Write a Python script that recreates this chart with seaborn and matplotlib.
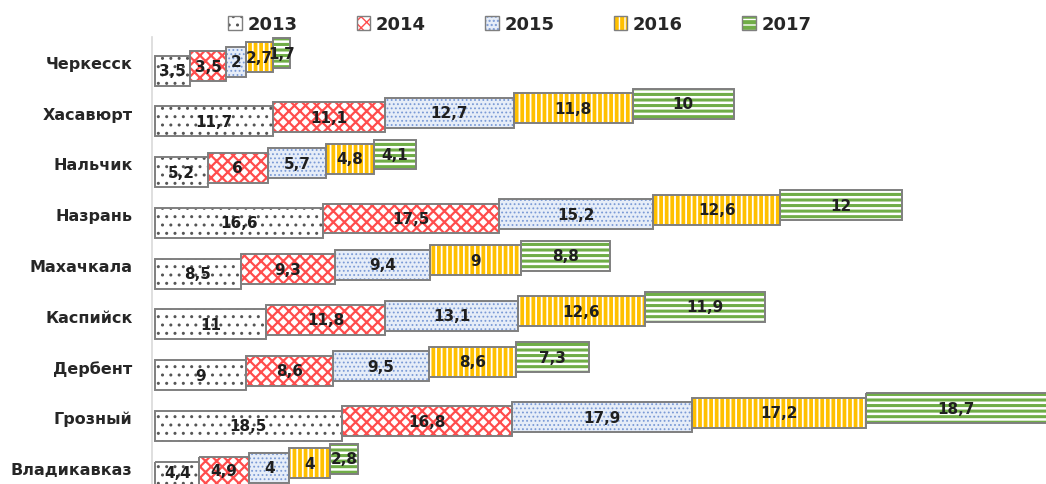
"""Stacked 3D-style horizontal bars: city values by year (2013-2017)."""
import matplotlib

matplotlib.use("Agg")
import matplotlib.pyplot as plt  # noqa: E402
from matplotlib.patches import Patch, Rectangle  # noqa: E402
import numpy as np  # noqa: E402
import seaborn as sns  # noqa: E402

sns.set_theme(style="white")
plt.rcParams["font.family"] = ["DejaVu Sans"]

cities = ["Черкесск", "Хасавюрт", "Нальчик", "Назрань", "Махачкала",
          "Каспийск", "Дербент", "Грозный", "Владикавказ"]
years = ["2013", "2014", "2015", "2016", "2017"]
v2013 = [3.5, 11.7, 5.2, 16.6, 8.5, 11, 9, 18.5, 4.4]
v2014 = [3.5, 11.1, 6, 17.5, 9.3, 11.8, 8.6, 16.8, 4.9]
v2015 = [2, 12.7, 5.7, 15.2, 9.4, 13.1, 9.5, 17.9, 4]
v2016 = [2.7, 11.8, 4.8, 12.6, 9, 12.6, 8.6, 17.2, 4]
v2017 = [1.7, 10, 4.1, 12, 8.8, 11.9, 7.3, 18.7, 2.8]
series = [v2013, v2014, v2015, v2016, v2017]

# face colour, hatch colour, hatch, hatch linewidth
styles = [
    ("#ffffff", "#555555", "..", 1.0),
    ("#ffffff", "#ff4d4d", "xxx", 1.6),
    ("#e6edf8", "#7a9ad6", "....", 0.8),
    ("#ffc000", "#ffffff", "|||", 1.3),
    ("#70ad47", "#ffffff", "---", 1.8),
]

BAR_H = 0.59
STEP = 0.087  # vertical shift per series (fake 3D depth)
EDGE = "#7f7f7f"

fig = plt.figure(figsize=(10.46, 4.85), dpi=100)
ax = fig.add_axes([152 / 1046, 0, 894 / 1046, 447 / 485])

left = np.zeros(len(cities))
for k, (vals, (face, hcol, hatch, hlw)) in enumerate(zip(series, styles)):
    with plt.rc_context({"hatch.linewidth": hlw}):
        sns.barplot(x=vals, y=cities, orient="h", color=face, saturation=1,
                    width=BAR_H, ax=ax, linewidth=0, edgecolor=hcol)
    cont = ax.containers[-1]
    for i, p in enumerate(cont.patches):
        p.set_x(left[i])
        p.set_y(p.get_y() + (2 - k) * STEP)
        p.set_facecolor(face)
        p.set_edgecolor(hcol)
        p.set_hatch(hatch)
        p.set_linewidth(0)
        ax.add_patch(Rectangle(p.get_xy(), p.get_width(), p.get_height(),
                               fill=False, ec=EDGE, lw=1.4, zorder=3))
    labels = [f"{v:g}".replace(".", ",") for v in vals]
    ax.bar_label(cont, labels=labels, label_type="center", fontsize=11,
                 fontweight="bold", color="#1f1f1f", zorder=4)
    left += np.array(vals)

ax.set_xlim(-0.3, 88.2)
ax.set_ylim(8.32, -0.49)
ax.set_xticks([])
ax.set_xlabel("")
ax.set_ylabel("")
ax.tick_params(axis="y", length=0, pad=14)
for lab in ax.get_yticklabels():
    lab.set_fontsize(11.5)
    lab.set_fontweight("bold")
    lab.set_color("#262626")
for s in ["top", "right", "bottom"]:
    ax.spines[s].set_visible(False)
ax.spines["left"].set_color("#d9d9d9")
ax.spines["left"].set_linewidth(1.2)

handles = []
for f, h, ht, hlw in styles:
    with plt.rc_context({"hatch.linewidth": hlw}):
        fill = Patch(facecolor=f, edgecolor=h, hatch=ht, linewidth=0)
    handles.append((fill, Patch(fill=False, edgecolor=EDGE, linewidth=1.0)))
fig.legend(handles, years, loc="center", bbox_to_anchor=(0.497, 0.948),
           ncol=5, frameon=False, handlelength=0.75, handleheight=0.75,
           handletextpad=0.3, columnspacing=3.3,
           prop={"size": 13, "weight": "bold"})

fig.savefig("out.png", dpi=100)
plt.close(fig)
